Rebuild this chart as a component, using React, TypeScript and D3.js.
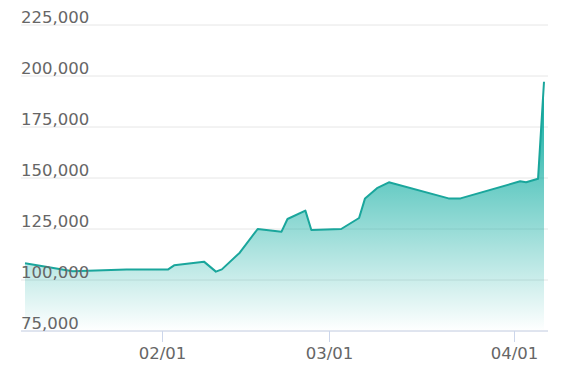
import React from "react";
import * as d3 from "d3";

const dates: string[] = [
  "2023-01-09", "2023-01-17", "2023-01-26", "2023-02-02", "2023-02-03",
  "2023-02-08", "2023-02-10", "2023-02-11", "2023-02-14", "2023-02-17",
  "2023-02-21", "2023-02-22", "2023-02-25", "2023-02-26", "2023-03-03",
  "2023-03-06", "2023-03-07", "2023-03-09", "2023-03-11", "2023-03-21",
  "2023-03-23", "2023-04-02", "2023-04-03", "2023-04-05", "2023-04-06",
];
const values: number[] = [
  108200, 104300, 105200, 105200, 107200,
  109000, 104100, 105200, 113400, 125000,
  123700, 129900, 134000, 124500, 125000,
  130400, 140000, 145000, 147900, 140000,
  140000, 148400, 147900, 149600, 197200,
];
const yTicks: number[] = [75000, 100000, 125000, 150000, 175000, 200000, 225000];
const xTickDates: string[] = ["2023-02-01", "2023-03-01", "2023-04-01"];

const W = 571;
const H = 380;

export default function App() {
  const parse = d3.utcParse("%Y-%m-%d");
  const data = dates.map((d, i) => ({ date: parse(d) as Date, value: values[i] }));
  const x = d3
    .scaleUtc()
    .domain(d3.extent(data, (d) => d.date) as [Date, Date])
    .range([25, 544]);
  const y = d3.scaleLinear().domain([75000, 225000]).range([331, 25]);
  const gridX0 = 21;
  const gridX1 = 548;
  const fmt = d3.format(",");
  const tfmt = d3.utcFormat("%m/%d");

  const line = d3
    .line<{ date: Date; value: number }>()
    .x((d) => x(d.date))
    .y((d) => y(d.value));
  const area = d3
    .area<{ date: Date; value: number }>()
    .x((d) => x(d.date))
    .y0(y(75000))
    .y1((d) => y(d.value));

  const font = "'DejaVu Sans', Verdana, sans-serif";

  return (
    <svg
      width={W}
      height={H}
      style={{ position: "absolute", left: 0, top: 0, background: "#fff" }}
    >
      <defs>
        <linearGradient id="fillGrad" x1="0" y1="0" x2="0" y2="1">
          <stop offset="0" stopColor="#00a89c" stopOpacity={1} />
          <stop offset="1" stopColor="#00a89c" stopOpacity={0} />
        </linearGradient>
      </defs>
      {yTicks.map((t) => (
        <line
          key={"g" + t}
          x1={gridX0}
          x2={gridX1}
          y1={y(t)}
          y2={y(t)}
          stroke="#e6e6e6"
          strokeWidth={1}
        />
      ))}
      <path d={area(data) || ""} fill="url(#fillGrad)" />
      <path d={line(data) || ""} fill="none" stroke="#1aa69c" strokeWidth={2} strokeLinejoin="round" />
      <line x1={gridX0} x2={gridX1} y1={y(75000)} y2={y(75000)} stroke="#ccd6eb" strokeWidth={1} />
      {xTickDates.map((s) => {
        const d = parse(s) as Date;
        const px = Math.round(x(d)) + 0.5;
        return (
          <g key={s}>
            <line x1={px} x2={px} y1={y(75000)} y2={y(75000) + 11} stroke="#ccd6eb" strokeWidth={1} />
            <text
              x={px}
              y={359}
              textAnchor="middle"
              fontFamily={font}
              fontSize={16.5}
              fill="#666"
            >
              {tfmt(d)}
            </text>
          </g>
        );
      })}
      {yTicks.map((t) => (
        <text
          key={"l" + t}
          x={gridX0}
          y={y(t) - 2}
          fontFamily={font}
          fontSize={16.5}
          fill="#666"
        >
          {fmt(t)}
        </text>
      ))}
    </svg>
  );
}
